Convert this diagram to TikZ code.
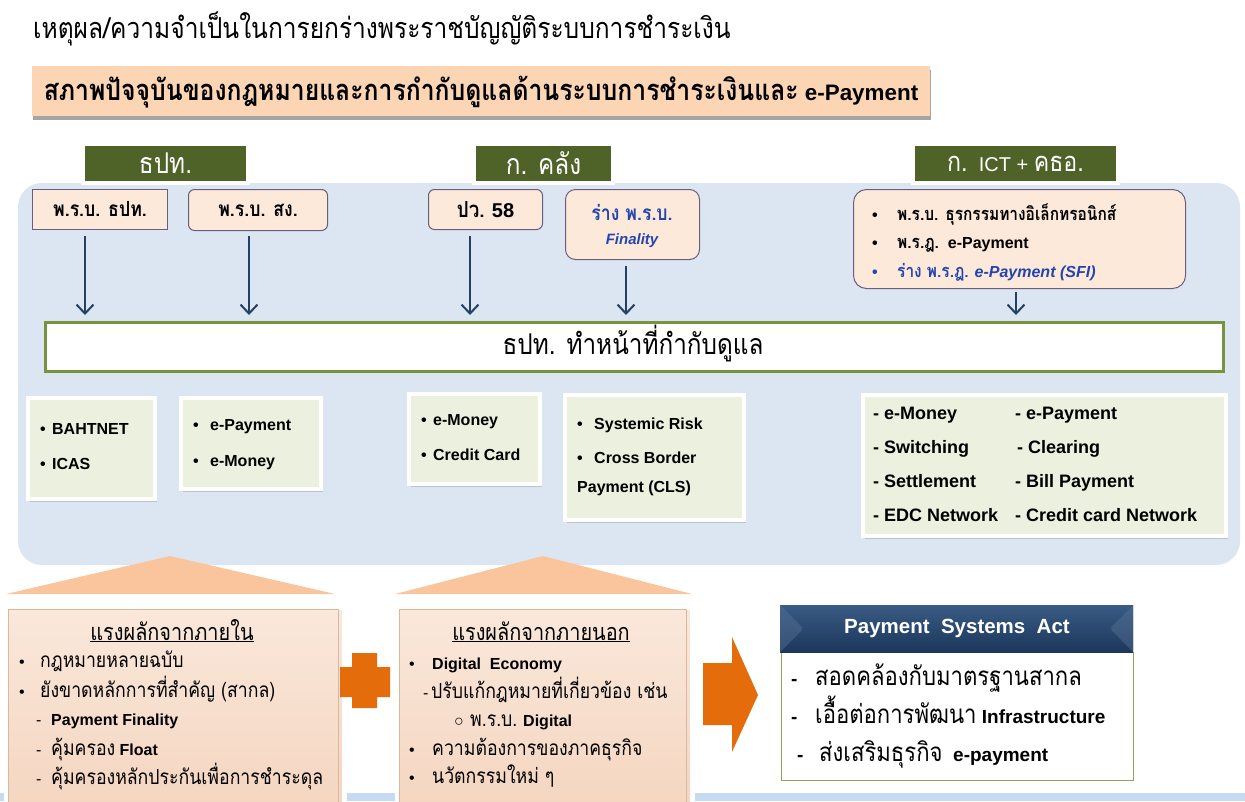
\documentclass[tikz,border=0pt]{standalone}
\usepackage{fontspec}
\setmainfont{Liberation Sans}
\newfontfamily\thai[Script=Thai,Scale=1.3,FakeStretch=0.85,AutoFakeSlant=0.2]{Loma}
\usetikzlibrary{shadows,arrows.meta}
\definecolor{bgblue}{HTML}{DCE6F2}
\definecolor{hdrfill}{HTML}{FCD5B4}
\definecolor{lawfill}{HTML}{FDE9D9}
\definecolor{lawdraw}{HTML}{6B5E7C}
\definecolor{dkgreen}{HTML}{4F6228}
\definecolor{ltgreen}{HTML}{EBF1DE}
\definecolor{regdraw}{HTML}{77933C}
\definecolor{arrblue}{HTML}{244062}
\definecolor{itblue}{HTML}{2445B0}
\definecolor{orng}{HTML}{E46C0A}
\definecolor{tri}{HTML}{FAC59C}
\definecolor{pchtop}{HTML}{FAE8DB}
\definecolor{pchbot}{HTML}{F4D5BF}
\definecolor{pchedge}{HTML}{D8B8A0}
\definecolor{psadk}{HTML}{1B365A}
\definecolor{psalt}{HTML}{3A5B84}
\definecolor{psadraw}{HTML}{8EA35B}
\definecolor{strip}{HTML}{C6DAF2}
\newcommand{\fsz}[1]{\fontsize{#1}{#1}\selectfont}
\newcommand{\bul}[1]{\makebox[#1][l]{•}}
\newcommand{\dsh}[1]{\makebox[#1][l]{-}}
\tikzset{
  box/.style={inner sep=0pt, anchor=north west},
  hdr/.style={box, fill=hdrfill, drop shadow={opacity=0.5, shadow xshift=1pt, shadow yshift=-4pt, fill=black!70}},
  lbl/.style={box, fill=dkgreen, draw=white, line width=4pt, text=white, font=\thai\fsz{22},
     drop shadow={opacity=0.3, shadow xshift=1pt, shadow yshift=-2pt}},
  law/.style={box, fill=lawfill, draw=lawdraw, line width=1pt, rounded corners=6pt, font=\bfseries\fsz{16}},
  gbox/.style={box, fill=ltgreen, draw=white, line width=4pt,
     drop shadow={opacity=0.35, shadow xshift=1.5pt, shadow yshift=-2.5pt}},
  pbox/.style={box, top color=pchtop, bottom color=pchbot, draw=white, line width=5pt,
     drop shadow={opacity=0.25, shadow xshift=1pt, shadow yshift=-1pt}},
  txt/.style={anchor=base west, inner sep=0pt},
  lt/.style={txt, font=\bfseries\fsz{16}},
  rt/.style={txt, font=\bfseries\fsz{18}},
  bt/.style={txt, font=\fsz{16}},
  arr/.style={draw=arrblue, line width=2pt, -{Straight Barb[length=9pt,width=17pt,line width=2pt]}},
}
\begin{document}
\begin{tikzpicture}[x=1pt,y=-1pt]
\useasboundingbox (0,0) rectangle (1245,801);
\fill[white] (0,0) rectangle (1245,801);
% bottom strip
\fill[strip] (0,793) rectangle (1245,801);
% title
\node[txt, font=\thai\fsz{22.2}] (title) at (33,38) {เหตุผล/ความจำเป็นในการยกร่างพระราชบัญญัติระบบการชำระเงิน};
% header box
\node[hdr, minimum width=898pt, minimum height=50pt] (hdr) at (32,66) {};
\node[font=\bfseries\fsz{22.4}, inner sep=0pt] (hdrt) at (481,92) {{\thai สภาพปัจจุบันของกฎหมายและการกำกับดูแลด้านระบบการชำระเงินและ} e-Payment};
% blue background
\fill[bgblue, rounded corners=24pt] (18,183) rectangle (1240,565);
% green labels
\node[lbl, minimum width=165pt, minimum height=39pt] (l1) at (81,142) {ธปท.};
\node[lbl, minimum width=139pt, minimum height=39pt] (l2) at (472,142) {ก. คลัง};
\node[lbl, minimum width=205pt, minimum height=39pt, font=\fsz{20}] (l3) at (911,142) {{\thai\fsz{21}ก.}\ \ ICT + {\thai\fsz{21}คธอ.}};
% law boxes
\node[law, rounded corners=0pt, minimum width=135pt, minimum height=40pt] (p1) at (32,189) {\thai พ.ร.บ. ธปท.};
\node[law, minimum width=139pt, minimum height=41pt] (p2) at (188,189) {\thai พ.ร.บ. สง.};
\node[law, minimum width=114pt, minimum height=40pt, font=\bfseries\fsz{20}] (p3) at (428,189) {{\thai\fsz{17}ปว.} 58};
\node[law, minimum width=134pt, minimum height=70pt, rounded corners=10pt] (p4) at (565,189) {};
\node[inner sep=0pt, font=\bfseries\itshape\fsz{16}, text=itblue] (p4a) at (632,212) {\thai ร่าง พ.ร.บ.};
\node[inner sep=0pt, font=\bfseries\itshape\fsz{15}, text=itblue] (p4b) at (632,241) {Finality};
\node[law, minimum width=332pt, minimum height=99pt, rounded corners=13pt] (p5) at (853,189) {};
\node[txt, font=\bfseries\fsz{16}] (p5a) at (872,220) {\bul{25pt}{\thai\fsz{14}พ.ร.บ. ธุรกรรมทางอิเล็กทรอนิกส์}};
\node[txt, font=\bfseries\fsz{16}] (p5b) at (872,248) {\bul{25pt}{\thai\fsz{14}พ.ร.ฎ.}\ \ e-Payment};
\node[txt, font=\bfseries\fsz{16}, text=itblue] (p5c) at (872,277) {\bul{25pt}\itshape{\thai\fsz{14}ร่าง พ.ร.ฎ.} e-Payment (SFI)};
% regulator box
\node[box, fill=white, draw=regdraw, line width=3pt, minimum width=1178pt, minimum height=49pt] (reg) at (44,321) {};
\node[inner sep=0pt, font=\thai\fsz{22}] (regt) at (633,344) {ธปท. ทำหน้าที่กำกับดูแล};
% arrows
\coordinate (s1) at (85,236);
\coordinate (s2) at (249,236);
\coordinate (s3) at (470,236);
\coordinate (s4) at (626,266);
\coordinate (s5) at (1016,292);
\foreach \s in {s1,s2,s3,s4,s5} \draw[arr, shorten >=6pt] (\s) -- (\s |- reg.north);
% green boxes
\node[gbox, minimum width=127pt, minimum height=101pt] (g1) at (26,396) {};
\node[lt] (g1a) at (40,434) {\bul{12pt}BAHTNET};
\node[lt] (g1b) at (40,469) {\bul{12pt}ICAS};
\node[gbox, minimum width=140pt, minimum height=91pt] (g2) at (179,396) {};
\node[lt] (g2a) at (193,430) {\bul{17pt}e-Payment};
\node[lt] (g2b) at (193,466) {\bul{17pt}e-Money};
\node[gbox, minimum width=131pt, minimum height=90pt] (g3) at (407,392) {};
\node[lt] (g3a) at (421,425) {\bul{12pt}e-Money};
\node[lt] (g3b) at (421,460) {\bul{12pt}Credit Card};
\node[gbox, minimum width=179pt, minimum height=125pt] (g4) at (563,393) {};
\node[lt] (g4a) at (577,429) {\bul{17pt}Systemic Risk};
\node[lt] (g4b) at (577,463) {\bul{17pt}Cross Border};
\node[lt] (g4c) at (577,492) {Payment (CLS)};
\node[gbox, minimum width=363pt, minimum height=141pt] (g5) at (861,393) {};
\node[rt] (g5a) at (873,419) {- e-Money};
\node[rt] (g5b) at (1015,419) {- e-Payment};
\node[rt] (g5c) at (873,453) {- Switching};
\node[rt] (g5d) at (1017,453) {- Clearing};
\node[rt] (g5e) at (873,487) {- Settlement};
\node[rt] (g5f) at (1015,487) {- Bill Payment};
\node[rt] (g5g) at (873,521) {- EDC Network};
\node[rt] (g5h) at (1015,521) {- Credit card Network};
% triangles
\fill[tri] (6,594) -- (170,556) -- (335,594) -- cycle;
\fill[tri] (395,594) -- (543,556) -- (692,594) -- cycle;
% bottom-left box
\node[pbox, minimum width=338pt, minimum height=210pt] (b1) at (4,605) {};
\draw[pchedge, line width=0.8pt] (8,609) rectangle (338,812);
\node[inner sep=0pt, anchor=base, font=\thai\fsz{18}] (b1t) at (172,640) {\underline{แรงผลักจากภายใน}};
\node[bt] (b1a) at (19,667) {\bul{21pt}{\thai กฎหมายหลายฉบับ}};
\node[bt] (b1b) at (19,697) {\bul{21pt}{\thai ยังขาดหลักการที่สำคัญ (สากล)}};
\node[bt] (b1c) at (36,725) {\dsh{15pt}\bfseries Payment Finality};
\node[bt] (b1d) at (36,755) {\dsh{15pt}{\thai คุ้มครอง} \textbf{Float}};
\node[bt] (b1e) at (36,784) {\dsh{15pt}{\thai คุ้มครองหลักประกันเพื่อการชำระดุล}};
% plus
\fill[orng] (352,653) -- (377,653) -- (377,667) -- (390,667) -- (390,697) -- (377,697) -- (377,708) -- (352,708) -- (352,697) -- (340,697) -- (340,667) -- (352,667) -- cycle;
% bottom-middle box
\node[pbox, minimum width=295pt, minimum height=210pt] (b2) at (395,605) {};
\draw[pchedge, line width=0.8pt] (399,609) rectangle (686,812);
\node[inner sep=0pt, anchor=base, font=\thai\fsz{18}] (b2t) at (541,640) {\underline{แรงผลักจากภายนอก}};
\node[bt] (b2a) at (409,669) {\bul{23pt}\textbf{Digital\ \ Economy}};
\node[bt] (b2b) at (423,698) {\dsh{8pt}{\thai ปรับแก้กฎหมายที่เกี่ยวข้อง เช่น}};
\node[bt] (b2c) at (454,726) {\makebox[16pt][l]{○}{\thai พ.ร.บ.} \textbf{Digital}};
\node[bt] (b2d) at (409,755) {\bul{23pt}{\thai ความต้องการของภาคธุรกิจ}};
\node[bt] (b2e) at (409,783) {\bul{23pt}{\thai นวัตกรรมใหม่ ๆ}};
% big arrow
\fill[orng] (703,663) -- (732,663) -- (732,637) -- (758,695) -- (732,752) -- (732,725) -- (703,725) -- cycle;
% PSA box
\node[box, fill=white, draw=psadraw, line width=1pt, minimum width=352pt, minimum height=128pt] (psb) at (781,652) {};
\node[box, top color=psalt, bottom color=psadk, minimum width=353pt, minimum height=47pt] (psh) at (780,605) {};
\fill[psalt!85!white, opacity=0.45] (psh.north west) -- ++(22,22) -- ++(0,3) -- (psh.south west) -- cycle;
\fill[psalt!85!white, opacity=0.45] (psh.north east) -- ++(-22,22) -- ++(0,3) -- (psh.south east) -- cycle;
\node[inner sep=0pt, text=white, font=\bfseries\fsz{20.5}] (psht) at (957,628) {Payment\ \ Systems\ \ Act};
\node[txt, font=\bfseries\fsz{19}] (ps1) at (791,685) {\dsh{24pt}{\thai\mdseries\fsz{20}สอดคล้องกับมาตรฐานสากล}};
\node[txt, font=\bfseries\fsz{19}] (ps2) at (791,723) {\dsh{24pt}{\thai\mdseries\fsz{20}เอื้อต่อการพัฒนา} Infrastructure};
\node[txt, font=\bfseries\fsz{19}] (ps3) at (797,761) {\dsh{22pt}{\thai\mdseries\fsz{20}ส่งเสริมธุรกิจ}\ \ e-payment};
\end{tikzpicture}
\end{document}
